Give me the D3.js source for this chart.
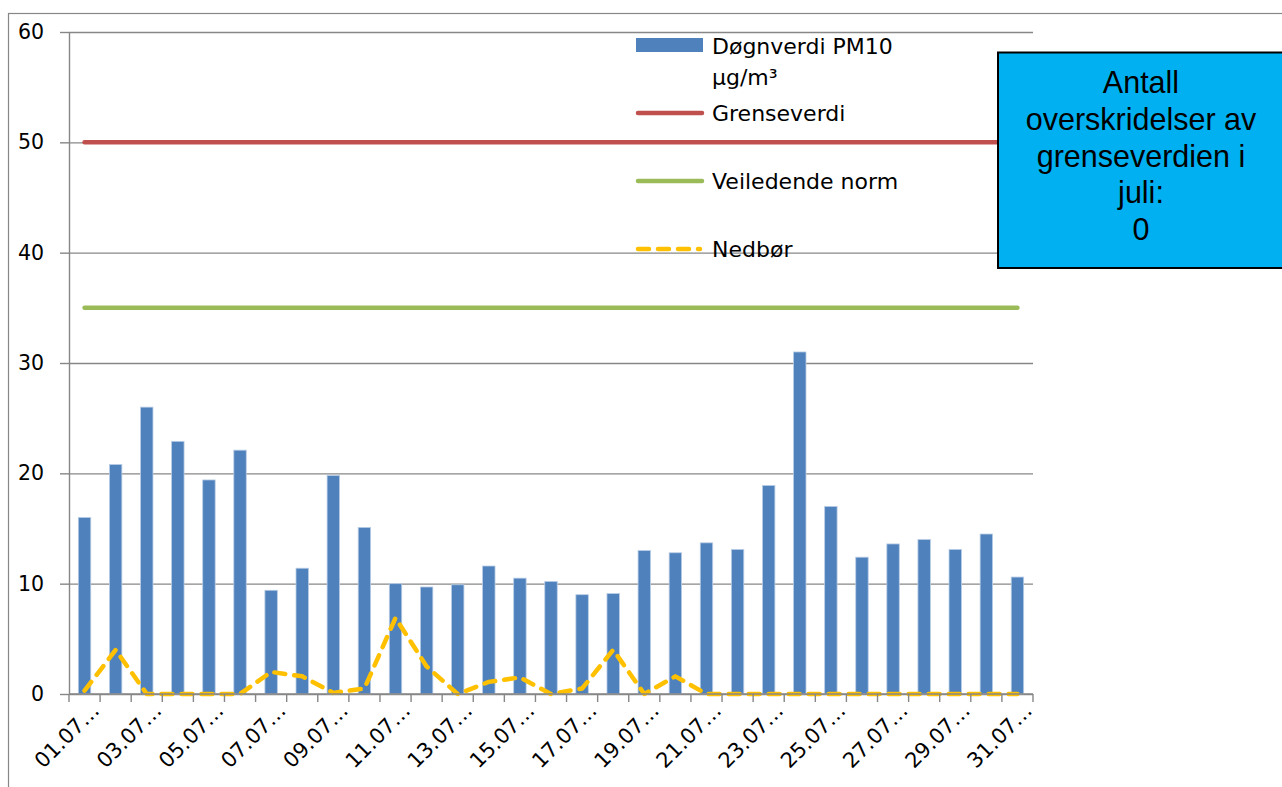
<!DOCTYPE html>
<html><head><meta charset="utf-8">
<script src="https://cdn.jsdelivr.net/npm/d3@7"></script>
<style>body{margin:0;background:#fff}svg{display:block}</style>
</head><body>
<svg id="c" width="1282" height="787"></svg>
<script>
// ---- data ----
const categories = ["01.07","02.07","03.07","04.07","05.07","06.07","07.07","08.07","09.07","10.07",
  "11.07","12.07","13.07","14.07","15.07","16.07","17.07","18.07","19.07","20.07",
  "21.07","22.07","23.07","24.07","25.07","26.07","27.07","28.07","29.07","30.07","31.07"];
const pm10 = [16.0,20.8,26.0,22.9,19.4,22.1,9.4,11.4,19.8,15.1,
  10.0,9.7,9.9,11.6,10.5,10.2,9.0,9.1,13.0,12.8,
  13.7,13.1,18.9,31.0,17.0,12.4,13.6,14.0,13.1,14.5,10.6];
const nedbor = [0.3,4.0,0,0,0,0,2.0,1.6,0.1,0.5,
  6.9,2.5,0,1.1,1.5,0,0.5,4.0,0,1.6,
  0,0,0,0,0,0,0,0,0,0,0];
const grenseverdi = 50;
const veiledendeNorm = 35;
const yTicks = [0,10,20,30,40,50,60];
const xLabels = ["01.07","03.07","05.07","07.07","09.07","11.07","13.07","15.07",
  "17.07","19.07","21.07","23.07","25.07","27.07","29.07","31.07"];
const legendLabels = ["Døgnverdi PM10", "µg/m³", "Grenseverdi", "Veiledende norm", "Nedbør"];
const boxLines = ["Antall", "overskridelser av", "grenseverdien i", "juli:", "0"];

// ---- chart ----
const svg = d3.select("#c");
const L = 69, R = 1033, T = 32, B = 694;
const x = d3.scaleBand().domain(categories).range([L, R]);
const y = d3.scaleLinear().domain([0, 60]).range([B, T]);
const bw = x.bandwidth();
const cx = c => x(c) + bw / 2;
const grid = "#878787";
const font = "DejaVu Sans, sans-serif";

// outer frame
svg.append("rect").attr("x", 8.5).attr("y", 13.5).attr("width", 1300).attr("height", 800)
  .attr("fill", "none").attr("stroke", grid).attr("stroke-width", 1.2);

// gridlines
const gGrid = svg.append("g").attr("transform", `translate(${L},0)`)
  .call(d3.axisLeft(y).tickValues(yTicks).tickSize(-(R - L)).tickFormat(""));
gGrid.select(".domain").remove();
gGrid.selectAll("line").attr("stroke", grid).attr("stroke-width", 1.4);

// bars
svg.append("g").selectAll("rect").data(categories).join("rect")
  .attr("x", c => x(c) + bw * 0.3).attr("width", bw * 0.4)
  .attr("y", (c, i) => y(pm10[i])).attr("height", (c, i) => y(0) - y(pm10[i]))
  .attr("fill", "#4F81BD").attr("stroke", "#b9cde5").attr("stroke-width", 0.8);

// limit lines
const first = categories[0], last = categories[categories.length - 1];
svg.append("line").attr("x1", cx(first)).attr("x2", cx(last))
  .attr("y1", y(grenseverdi)).attr("y2", y(grenseverdi))
  .attr("stroke", "#C0504D").attr("stroke-width", 4.5).attr("stroke-linecap", "round");
svg.append("line").attr("x1", cx(first)).attr("x2", cx(last))
  .attr("y1", y(veiledendeNorm)).attr("y2", y(veiledendeNorm))
  .attr("stroke", "#9BBB59").attr("stroke-width", 4.5).attr("stroke-linecap", "round");

// precipitation
svg.append("path").datum(nedbor)
  .attr("d", d3.line().x((v, i) => cx(categories[i])).y(v => y(v)))
  .attr("fill", "none").attr("stroke", "#FFC000").attr("stroke-width", 4.5)
  .attr("stroke-dasharray", "11,9").attr("stroke-linecap", "round").attr("stroke-linejoin", "round");

// y axis
const gy = svg.append("g").attr("transform", `translate(${L},0)`)
  .call(d3.axisLeft(y).tickValues(yTicks).tickSize(9).tickSizeOuter(0).tickPadding(16));
gy.selectAll("line").attr("stroke", grid).attr("stroke-width", 1.4);
gy.select(".domain").attr("stroke", grid).attr("stroke-width", 1.4);
gy.selectAll("text").attr("font-family", font).attr("font-size", 20.5).attr("fill", "#000");

// x axis
svg.append("line").attr("x1", L).attr("x2", R).attr("y1", B).attr("y2", B)
  .attr("stroke", grid).attr("stroke-width", 1.4);
const bounds = categories.map(c => x(c)).concat([x.range()[1]]);
svg.append("g").selectAll("line").data(bounds).join("line")
  .attr("x1", d => d).attr("x2", d => d).attr("y1", B).attr("y2", B + 8)
  .attr("stroke", grid).attr("stroke-width", 1.4);
svg.append("g").selectAll("text").data(xLabels).join("text")
  .attr("transform", d => `translate(${cx(d) + 16},${B + 18}) rotate(-45)`)
  .attr("text-anchor", "end").attr("font-family", font).attr("font-size", 21).attr("fill", "#000")
  .text(d => d + "…");

// legend
const lg = svg.append("g").attr("font-family", font).attr("font-size", 22).attr("fill", "#000");
lg.append("rect").attr("x", 636).attr("y", 38).attr("width", 67).attr("height", 14).attr("fill", "#4F81BD");
lg.append("text").attr("x", 712).attr("y", 54).text(legendLabels[0]);
lg.append("text").attr("x", 712).attr("y", 85).text(legendLabels[1]);
lg.append("line").attr("x1", 638).attr("x2", 702).attr("y1", 113).attr("y2", 113)
  .attr("stroke", "#C0504D").attr("stroke-width", 4.5).attr("stroke-linecap", "round");
lg.append("text").attr("x", 712).attr("y", 121).text(legendLabels[2]);
lg.append("line").attr("x1", 638).attr("x2", 702).attr("y1", 181).attr("y2", 181)
  .attr("stroke", "#9BBB59").attr("stroke-width", 4.5).attr("stroke-linecap", "round");
lg.append("text").attr("x", 712).attr("y", 189).text(legendLabels[3]);
lg.append("line").attr("x1", 638).attr("x2", 700).attr("y1", 249).attr("y2", 249)
  .attr("stroke", "#FFC000").attr("stroke-width", 4.5).attr("stroke-linecap", "round")
  .attr("stroke-dasharray", "11,9");
lg.append("text").attr("x", 712).attr("y", 257).text(legendLabels[4]);

// text box
svg.append("rect").attr("x", 998).attr("y", 52.5).attr("width", 300).attr("height", 215.5)
  .attr("fill", "#00B0F0").attr("stroke", "#000").attr("stroke-width", 2);
const baselines = [93, 130, 167, 203, 240];
svg.append("g").selectAll("text").data(boxLines).join("text")
  .attr("x", 1141).attr("y", (d, i) => baselines[i]).attr("text-anchor", "middle")
  .attr("font-family", "Liberation Sans, Arial, sans-serif").attr("font-size", 30.5).attr("fill", "#000")
  .text(d => d);
</script>
</body></html>
